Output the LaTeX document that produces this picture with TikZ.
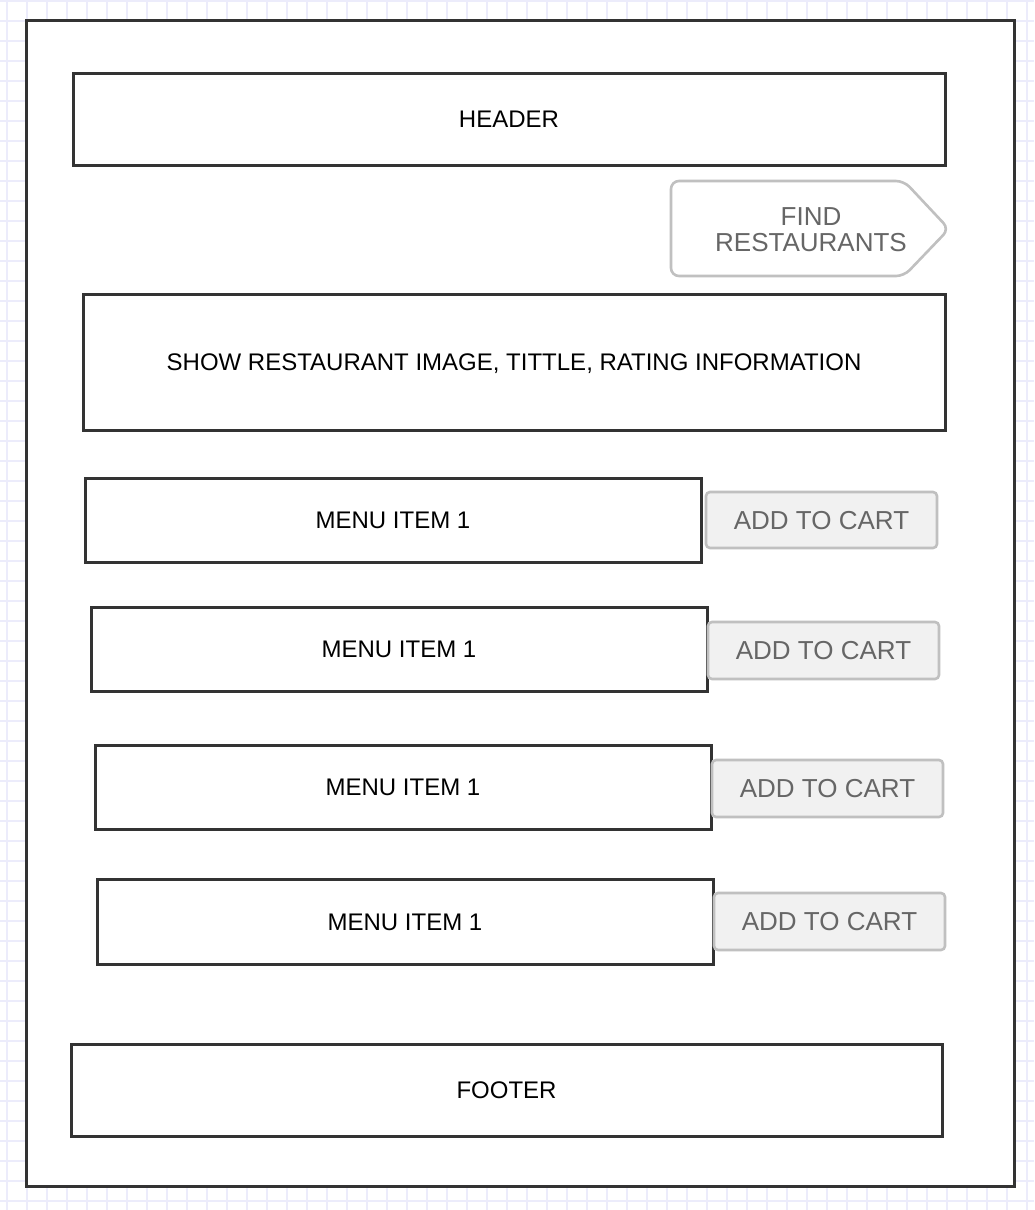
\documentclass[tikz,border=0pt]{standalone}
\usepackage{fontspec}
\setmainfont{Liberation Sans}
\definecolor{gridc}{HTML}{ECECFB}
\definecolor{dark}{HTML}{333333}
\definecolor{btnline}{HTML}{C0C0C0}
\definecolor{btnfill}{HTML}{F1F1F1}
\definecolor{btntext}{HTML}{666666}
\tikzset{
  x=1pt, y=-1pt,
  box/.style={draw=dark, line width=3pt, fill=white, anchor=north west, inner sep=0pt, outer sep=0pt,
    font=\fontsize{24}{26}\selectfont, text=black, text height=17pt, text depth=0pt},
  cartbtn/.style={draw=btnline, line width=2.6pt, fill=btnfill, rounded corners=4pt, anchor=north west,
    inner sep=0pt, outer sep=0pt, font=\fontsize{26}{27}\selectfont, text=btntext,
    text height=18.6pt, text depth=0pt},
  lbl/.style={inner sep=0pt, align=center, font=\fontsize{26}{26}\selectfont, text=btntext}
}
\begin{document}
\begin{tikzpicture}
\useasboundingbox (0,0) rectangle (1034,1210);
\fill[white] (0,0) rectangle (1034,1210);
\foreach \i in {0,...,51} { \draw[gridc, line width=1.1pt] ({7+20*\i},0) -- ({7+20*\i},1210); }
\foreach \j in {0,...,60} { \draw[gridc, line width=1.1pt] (0,{1+20*\j}) -- (1034,{1+20*\j}); }
% outer frame
\node[box, minimum width=988pt, minimum height=1166pt] (frame) at (26,20) {};
% header
\node[box, minimum width=872pt, minimum height=92pt] (header) at (73,73) {HEADER};
% find restaurants
\draw[btnline, line width=2.6pt, fill=white, rounded corners=8pt]
  (671,181) -- (904,181) -- (949,229) -- (904,276) -- (671,276) -- cycle;
\node[lbl] (find) at (811,230) {FIND\\RESTAURANTS};
% show restaurant
\node[box, minimum width=862pt, minimum height=136pt] (show) at (83,294) {SHOW RESTAURANT IMAGE, TITTLE, RATING INFORMATION};
% menu items
\node[box, minimum width=616pt, minimum height=84pt] (m1) at (85,478) {MENU ITEM 1};
\node[box, minimum width=616pt, minimum height=84pt] (m2) at (91,607) {MENU ITEM 1};
\node[box, minimum width=616pt, minimum height=84pt] (m3) at (95,745) {MENU ITEM 1};
\node[box, minimum width=616pt, minimum height=85pt] (m4) at (97,879) {MENU ITEM 1};
% add to cart buttons
\node[cartbtn, minimum width=231pt, minimum height=56pt] (c1) at (706,492) {ADD TO CART};
\node[cartbtn, minimum width=231pt, minimum height=57pt] (c2) at (708,622) {ADD TO CART};
\node[cartbtn, minimum width=231pt, minimum height=57pt] (c3) at (712,760) {ADD TO CART};
\node[cartbtn, minimum width=231pt, minimum height=57pt] (c4) at (714,893) {ADD TO CART};
% footer
\node[box, minimum width=871pt, minimum height=92pt] (footer) at (71,1044) {FOOTER};
\end{tikzpicture}
\end{document}
